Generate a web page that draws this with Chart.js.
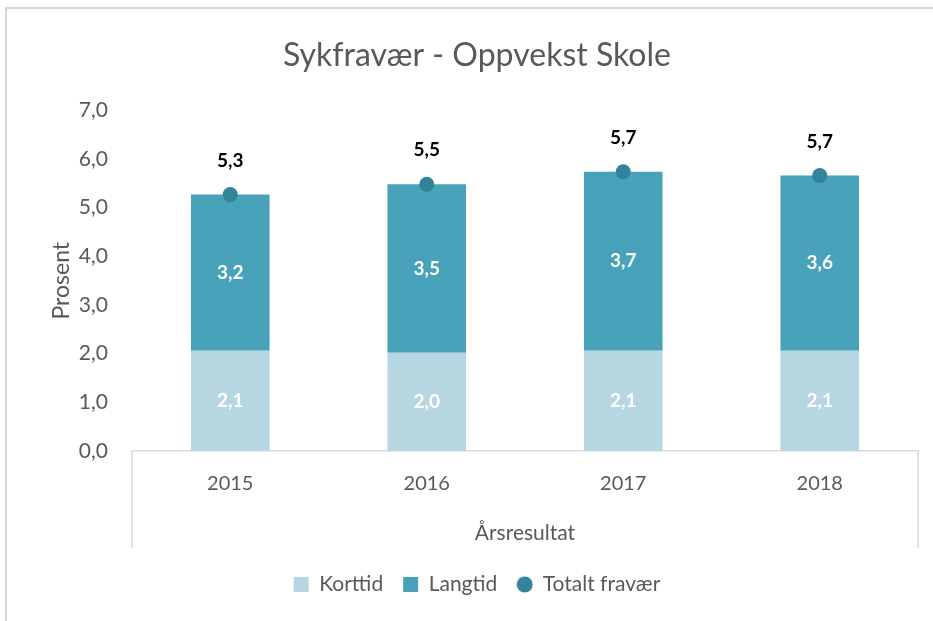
<!DOCTYPE html>
<html>
<head>
<meta charset="utf-8">
<script src="https://cdn.jsdelivr.net/npm/chart.js@4"></script>
<style>
  html, body { margin: 0; padding: 0; background: #fff; overflow: hidden; }
  body { width: 933px; height: 621px; position: relative; }
  #frame { position: absolute; left: 5px; top: 7px; width: 940px; height: 700px;
    border-left: 2px solid #d6d6d6; border-top: 2px solid #d6d6d6; }
  #wrap { position: absolute; left: 26px; top: 0; width: 902px; height: 621px; }
</style>
</head>
<body>
<div id="frame"></div>
<div id="wrap"><canvas id="chart"></canvas></div>
<script>
// Sykefravær per år (prosent)
const years = ["2015", "2016", "2017", "2018"]
const korttid = [2.06, 2.02, 2.06, 2.06]
const langtid = [3.21, 3.46, 3.68, 3.60]
const totalt = [5.27, 5.48, 5.74, 5.66]
const yTicks = [0, 1, 2, 3, 4, 5, 6, 7]

const FONT = "Lato, 'Open Sans', sans-serif"
const GREY = "#595959"
const DOT = "#31849a"
const fmt = (v) => v.toFixed(1).replace(".", ",")

// small round marker for the legend
const legendDot = document.createElement("canvas")
legendDot.width = 17
legendDot.height = 17
const dctx = legendDot.getContext("2d")
dctx.fillStyle = DOT
dctx.beginPath()
dctx.arc(8.5, 8.5, 8, 0, Math.PI * 2)
dctx.fill()

// labels inside bars and above the points
const valueLabels = {
  id: "valueLabels",
  afterDatasetsDraw(chart) {
    const ctx = chart.ctx
    ctx.save()
    ctx.textAlign = "center"
    ctx.textBaseline = "middle"
    ctx.font = "bold 19px " + FONT
    chart.data.datasets.forEach((ds, i) => {
      const meta = chart.getDatasetMeta(i)
      meta.data.forEach((el, j) => {
        if (ds.type === "line") {
          ctx.fillStyle = "#000"
          ctx.fillText(fmt(ds.data[j]), el.x, el.y - 34)
        } else {
          ctx.fillStyle = "#fff"
          ctx.fillText(fmt(ds.data[j]), el.x, (el.y + el.base) / 2)
        }
      })
    })
    ctx.restore()
  },
  afterDraw(chart) {
    // outer category box lines below the axis
    const x = chart.scales.x
    const ctx = chart.ctx
    ctx.save()
    ctx.strokeStyle = "#d9d9d9"
    ctx.lineWidth = 1.5
    ctx.beginPath()
    ctx.moveTo(x.left, x.top)
    ctx.lineTo(x.left, x.top + 97)
    ctx.moveTo(x.right, x.top)
    ctx.lineTo(x.right, x.top + 97)
    ctx.stroke()
    ctx.restore()
  },
}

new Chart(document.getElementById("chart"), {
  data: {
    labels: years,
    datasets: [
      {
        type: "bar",
        label: "Korttid",
        data: korttid,
        backgroundColor: "#b6d6e1",
        pointStyle: "rect",
        stack: "fravaer",
        order: 1,
      },
      {
        type: "bar",
        label: "Langtid",
        data: langtid,
        backgroundColor: "#48a2b9",
        pointStyle: "rect",
        stack: "fravaer",
        order: 1,
      },
      {
        type: "line",
        label: "Totalt fravær",
        data: totalt,
        showLine: false,
        pointStyle: "circle",
        pointRadius: 7.5,
        pointBackgroundColor: DOT,
        pointBorderWidth: 0,
        backgroundColor: DOT,
        borderColor: DOT,
        stack: "total",
        order: 0,
      },
    ],
  },
  options: {
    responsive: true,
    maintainAspectRatio: false,
    animation: false,
    layout: { padding: { left: 10, right: 10, top: 0, bottom: 16 } },
    datasets: { bar: { barPercentage: 0.4, categoryPercentage: 1.0 } },
    plugins: {
      title: {
        display: true,
        text: "Sykfravær - Oppvekst Skole",
        color: GREY,
        font: { family: FONT, size: 32, weight: "normal" },
        padding: { top: 36, bottom: 36 },
      },
      legend: {
        position: "bottom",
        labels: {
          usePointStyle: true,
          boxWidth: 15,
          boxHeight: 15,
          color: GREY,
          font: { family: FONT, size: 21 },
          padding: 20,
          sort: (a, b) => a.datasetIndex - b.datasetIndex,
          generateLabels: (chart) => {
            const items = Chart.defaults.plugins.legend.labels.generateLabels(chart)
            items.forEach((it) => {
              if (it.text === "Totalt fravær") it.pointStyle = legendDot
            })
            return items
          },
        },
      },
      tooltip: { enabled: false },
    },
    scales: {
      x: {
        stacked: true,
        grid: { display: true, drawOnChartArea: false, drawTicks: false },
        border: { color: "#d9d9d9", width: 1.5 },
        ticks: { color: GREY, font: { family: FONT, size: 20 }, padding: 21 },
        title: {
          display: true,
          text: "Årsresultat",
          color: GREY,
          font: { family: FONT, size: 21 },
          padding: { top: 0, bottom: 8 },
        },
        afterFit: (s) => { s.height = 103 },
      },
      y: {
        stacked: true,
        min: 0,
        max: 7,
        afterBuildTicks: (s) => { s.ticks = yTicks.map((v) => ({ value: v })) },
        grid: { display: false },
        border: { display: false },
        ticks: {
          color: GREY,
          font: { family: FONT, size: 21 },
          padding: 16,
          callback: (v) => fmt(v),
        },
        title: {
          display: true,
          text: "Prosent",
          color: GREY,
          font: { family: FONT, size: 23 },
          padding: { top: 12 },
        },
        afterFit: (s) => { s.width = 96 },
      },
    },
  },
  plugins: [valueLabels],
})
</script>
</body>
</html>
